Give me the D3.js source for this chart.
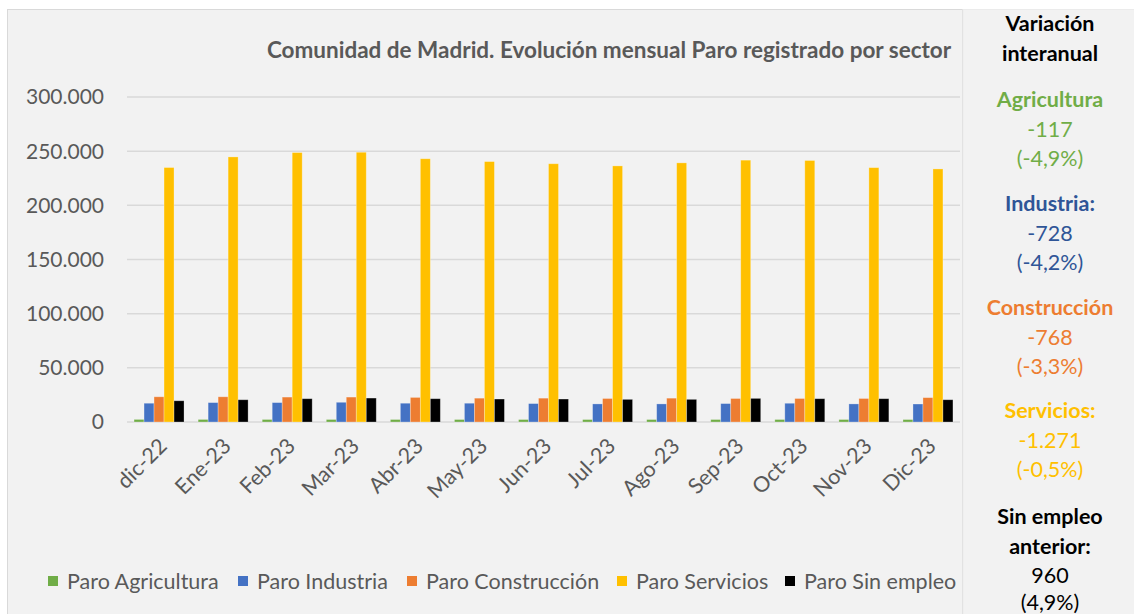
<!DOCTYPE html>
<html>
<head>
<meta charset="utf-8">
<script src="https://cdn.jsdelivr.net/npm/d3@7"></script>
<style>
  body { margin: 0; background: #ffffff; }
  text { font-family: Lato, "Open Sans", sans-serif; }
</style>
</head>
<body>
<svg id="chart" width="1134" height="614"></svg>
<script>
// months on the x axis
const months = ["dic-22", "Ene-23", "Feb-23", "Mar-23", "Abr-23", "May-23", "Jun-23",
                "Jul-23", "Ago-23", "Sep-23", "Oct-23", "Nov-23", "Dic-23"];

const seriesNames = ["Paro Agricultura", "Paro Industria", "Paro Construcción", "Paro Servicios", "Paro Sin empleo"];
const seriesColors = ["#70ad47", "#4472c4", "#ed7d31", "#ffc000", "#000000"];

// values
const agricultura = [2390, 2350, 2330, 2320, 2300, 2290, 2280, 2270, 2280, 2290, 2300, 2290, 2270];
const industria = [17330, 17900, 17900, 18200, 17330, 17330, 17000, 16700, 16700, 17000, 17300, 16700, 16600];
const construccion = [23270, 23270, 23000, 23000, 22700, 22000, 22000, 21700, 22000, 21700, 21700, 21700, 22500];
const servicios = [234900, 244700, 248700, 249000, 243000, 240400, 238400, 236400, 239200, 241700, 241400, 234800, 233600];
const sinEmpleo = [19590, 20540, 21500, 22100, 21500, 21200, 21200, 20900, 20900, 21800, 21500, 21500, 20550];

const yTicks = [0, 50000, 100000, 150000, 200000, 250000, 300000];

// side panel: label, value, pct, colour
const panelHead = ["Variación", "interanual"];
const panelItems = [
  { label: ["Agricultura"], value: "-117", pct: "(-4,9%)", textColor: "#70ad47" },
  { label: ["Industria:"], value: "-728", pct: "(-4,2%)", textColor: "#2f5597" },
  { label: ["Construcción"], value: "-768", pct: "(-3,3%)", textColor: "#ed7d31" },
  { label: ["Servicios:"], value: "-1.271", pct: "(-0,5%)", textColor: "#ffc000" },
  { label: ["Sin empleo", "anterior:"], value: "960", pct: "(4,9%)", textColor: "#000000" }
];

const title = "Comunidad de Madrid. Evolución mensual Paro registrado por sector";

const allSeries = [agricultura, industria, construccion, servicios, sinEmpleo];

const svg = d3.select("#chart");
const margin = { left: 127, right: 174, top: 97, bottom: 192 };
const W = 1134, H = 614;

// backgrounds
svg.append("rect")
  .attr("x", 7.5).attr("y", 9.5)
  .attr("width", 955).attr("height", 620)
  .attr("fill", "#f2f2f2")
  .attr("stroke", "#d9d9d9");
svg.append("rect")
  .attr("x", 963).attr("y", 9.5)
  .attr("width", 180).attr("height", 620)
  .attr("fill", "#f2f2f2")
  .attr("stroke", "#ebebeb");

const x = d3.scaleBand()
  .domain(months)
  .range([margin.left, W - margin.right])
  .paddingInner(0.22)
  .paddingOuter(0.11);

const xSub = d3.scaleBand()
  .domain(d3.range(allSeries.length))
  .range([0, x.bandwidth()]);

const y = d3.scaleLinear()
  .domain([0, 300000])
  .range([H - margin.bottom, margin.top]);

// gridlines
svg.append("g")
  .selectAll("line")
  .data(yTicks)
  .join("line")
  .attr("x1", margin.left)
  .attr("x2", W - margin.right)
  .attr("y1", d => y(d))
  .attr("y2", d => y(d))
  .attr("stroke", "#d9d9d9")
  .attr("stroke-width", 1.5);

// y labels
const fmt = d3.formatLocale({ decimal: ",", thousands: ".", grouping: [3], currency: ["", "€"] }).format(",d");
svg.append("g")
  .selectAll("text")
  .data(yTicks)
  .join("text")
  .attr("x", 104)
  .attr("y", d => y(d))
  .attr("dy", "0.35em")
  .attr("text-anchor", "end")
  .attr("fill", "#595959")
  .style("font-size", "21px")
  .text(d => fmt(d));

// bars
const groups = svg.append("g")
  .selectAll("g")
  .data(months)
  .join("g")
  .attr("transform", d => `translate(${x(d)},0)`);

groups.selectAll("rect")
  .data((m, i) => allSeries.map((s, k) => ({ k: k, v: s[i] })))
  .join("rect")
  .attr("x", d => xSub(d.k))
  .attr("width", xSub.bandwidth())
  .attr("y", d => y(d.v))
  .attr("height", d => y(0) - y(d.v))
  .attr("fill", d => seriesColors[d.k])
  .attr("stroke", "#ffffff")
  .attr("stroke-opacity", 0.35)
  .attr("stroke-width", 0.8);

// x labels
svg.append("g")
  .selectAll("text")
  .data(months)
  .join("text")
  .attr("transform", d => `translate(${x(d) + x.bandwidth() / 2 + 4},${y(0) + 20}) rotate(-45)`)
  .attr("text-anchor", "end")
  .attr("dy", "0.35em")
  .attr("fill", "#595959")
  .style("font-size", "21.5px")
  .text(d => d);

// title
svg.append("text")
  .attr("x", 609)
  .attr("y", 58)
  .attr("text-anchor", "middle")
  .attr("fill", "#595959")
  .style("font-size", "22.5px")
  .style("font-weight", "bold")
  .text(title);

// legend
const legendX = [48, 238, 407, 617, 785];
const legend = svg.append("g")
  .selectAll("g")
  .data(seriesNames)
  .join("g")
  .attr("transform", (d, i) => `translate(${legendX[i]},581)`);
legend.append("rect")
  .attr("x", 0).attr("y", -5)
  .attr("width", 10).attr("height", 10)
  .attr("fill", (d, i) => seriesColors[i]);
legend.append("text")
  .attr("x", 19)
  .attr("dy", "0.35em")
  .attr("fill", "#595959")
  .style("font-size", "21.5px")
  .text(d => d);

// side panel
const px = 1050;
let lines = [];
panelHead.forEach(t => lines.push({ t: t, c: "#000000", b: true }));
panelItems.forEach(p => {
  p.label.forEach(t => lines.push({ t: t, c: p.textColor, b: true }));
  lines.push({ t: p.value, c: p.textColor, b: false });
  lines.push({ t: p.pct, c: p.textColor, b: false });
});
const baselines = [31, 61, 107, 137, 166, 211, 241, 270, 315, 345, 374, 418, 448, 477, 524, 554, 583, 610];
svg.append("g")
  .selectAll("text")
  .data(lines)
  .join("text")
  .attr("x", px)
  .attr("y", (d, i) => baselines[i])
  .attr("text-anchor", "middle")
  .attr("fill", d => d.c)
  .style("font-size", "21.5px")
  .style("font-weight", d => d.b ? "bold" : "normal")
  .text(d => d.t);
</script>
</body>
</html>
